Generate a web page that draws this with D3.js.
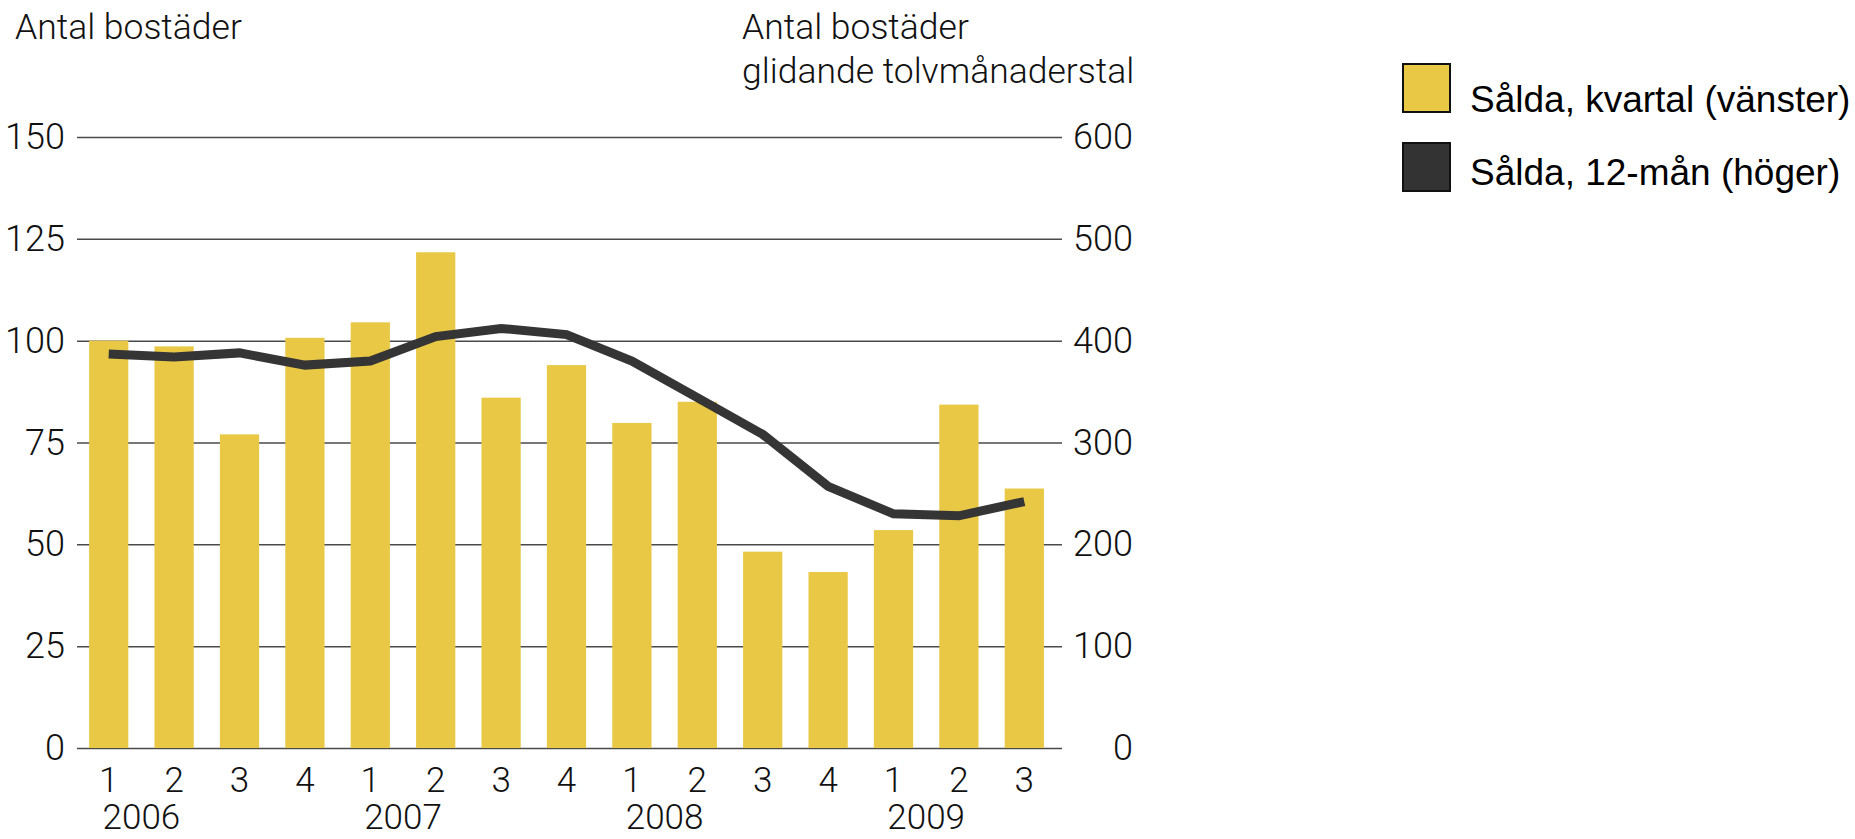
<!DOCTYPE html>
<html>
<head>
<meta charset="utf-8">
<script src="https://cdn.jsdelivr.net/npm/d3@7"></script>
<style>
  html, body { margin: 0; padding: 0; background: #fff; }
  svg { display: block; }
</style>
</head>
<body>
<svg id="chart"></svg>
<script>
const width = 1855;
const height = 839;

// data
const periods = ["2006:1","2006:2","2006:3","2006:4","2007:1","2007:2","2007:3","2007:4",
                 "2008:1","2008:2","2008:3","2008:4","2009:1","2009:2","2009:3"];
const quarterLabels = ["1","2","3","4","1","2","3","4","1","2","3","4","1","2","3"];
const years = ["2006","2007","2008","2009"];
const soldQuarter = [100, 98.6, 77, 100.7, 104.5, 121.7, 86, 94, 79.8, 85, 48.2, 43.2, 53.5, 84.3, 63.7];
const sold12m = [387, 384, 388, 376, 380, 404, 412, 406, 380, 344, 308, 257, 230, 228, 242];
const leftTicks = [0, 25, 50, 75, 100, 125, 150];
const rightTicks = [0, 100, 200, 300, 400, 500, 600];
const legendLabels = ["Sålda, kvartal (vänster)", "Sålda, 12-mån (höger)"];

const BAR = "#e9c846";
const LINE = "#353535";
const GRID = "#4a4a4a";
const labelFont = "Roboto";

const plot = {left: 77, right: 1062, top: 137, bottom: 748};

const svg = d3.select("#chart")
    .attr("width", width)
    .attr("height", height)
    .attr("viewBox", [0, 0, width, height]);

svg.append("rect").attr("width", width).attr("height", height).attr("fill", "#fff");

const x = d3.scaleBand(periods, [76, 1057]).paddingInner(0.4).paddingOuter(0.2);
const yL = d3.scaleLinear([0, 150], [plot.bottom, plot.top]);
const yR = d3.scaleLinear([0, 600], [plot.bottom, plot.top]);

// left axis + gridlines
const leftAxis = svg.append("g")
    .attr("transform", `translate(${plot.left},0)`)
    .call(d3.axisLeft(yL)
      .tickValues(leftTicks)
      .tickSizeInner(-(plot.right - plot.left))
      .tickSizeOuter(0)
      .tickPadding(12));
leftAxis.select(".domain").remove();
leftAxis.selectAll("line").attr("stroke", GRID).attr("stroke-width", 1.5);
leftAxis.selectAll("text")
    .attr("fill", "#111")
    .attr("font-family", labelFont)
    .attr("font-weight", 300)
    .attr("font-size", "36px");

// right axis labels
const rightAxis = svg.append("g")
    .attr("transform", `translate(${plot.right},0)`)
    .call(d3.axisRight(yR).tickValues(rightTicks).tickSize(0).tickPadding(10));
rightAxis.select(".domain").remove();
rightAxis.selectAll("text")
    .attr("text-anchor", "end")
    .attr("x", 71)
    .attr("fill", "#111")
    .attr("font-family", labelFont)
    .attr("font-weight", 300)
    .attr("font-size", "36px");

// bars
svg.append("g").selectAll("rect")
  .data(soldQuarter)
  .join("rect")
    .attr("x", (d, i) => x(periods[i]))
    .attr("y", d => yL(d))
    .attr("width", x.bandwidth())
    .attr("height", d => yL(0) - yL(d))
    .attr("fill", BAR);

// 12 month line
svg.append("path")
    .datum(sold12m)
    .attr("fill", "none")
    .attr("stroke", LINE)
    .attr("stroke-width", 9)
    .attr("stroke-linejoin", "miter")
    .attr("d", d3.line()
      .x((d, i) => x(periods[i]) + x.bandwidth() / 2)
      .y(d => yR(d)));

// quarter labels
const bottomAxis = svg.append("g")
    .attr("transform", `translate(0,${plot.bottom})`)
    .call(d3.axisBottom(x).tickSize(0).tickPadding(19).tickFormat((d, i) => quarterLabels[i]));
bottomAxis.select(".domain").remove();
bottomAxis.selectAll("text")
    .attr("fill", "#111")
    .attr("font-family", labelFont)
    .attr("font-weight", 300)
    .attr("font-size", "35px");

// year labels, centred between Q1 and Q2
svg.append("g").selectAll("text")
  .data(years)
  .join("text")
    .attr("x", d => (x(d + ":1") + x(d + ":2") + x.bandwidth()) / 2)
    .attr("y", 829)
    .attr("text-anchor", "middle")
    .attr("fill", "#111")
    .attr("font-family", labelFont)
    .attr("font-weight", 300)
    .attr("font-size", "35px")
    .text(d => d);

// axis titles
svg.append("text")
    .attr("x", 15).attr("y", 39)
    .attr("fill", "#111")
    .attr("font-family", labelFont)
    .attr("font-weight", 300)
    .attr("font-size", "35.5px")
    .text("Antal bostäder");

const rTitle = svg.append("text")
    .attr("x", 742).attr("y", 39)
    .attr("fill", "#111")
    .attr("font-family", labelFont)
    .attr("font-weight", 300)
    .attr("font-size", "35.5px");
rTitle.append("tspan").attr("x", 742).text("Antal bostäder");
rTitle.append("tspan").attr("x", 742).attr("dy", 44).text("glidande tolvmånaderstal");

// legend
const legend = svg.append("g").attr("transform", "translate(1403,64)");
const legendColors = [BAR, "#333333"];
const item = legend.selectAll("g")
  .data(legendLabels)
  .join("g")
    .attr("transform", (d, i) => `translate(0,${i * 79})`);
item.append("rect")
    .attr("width", 47).attr("height", 48)
    .attr("fill", (d, i) => legendColors[i])
    .attr("stroke", "#111")
    .attr("stroke-width", 2);
item.append("text")
    .attr("x", 67)
    .attr("y", (d, i) => i === 0 ? 48 : 42)
    .attr("fill", "#000")
    .attr("font-family", "Liberation Sans, Arial, sans-serif")
    .attr("font-size", "37px")
    .text(d => d);
</script>
</body>
</html>
